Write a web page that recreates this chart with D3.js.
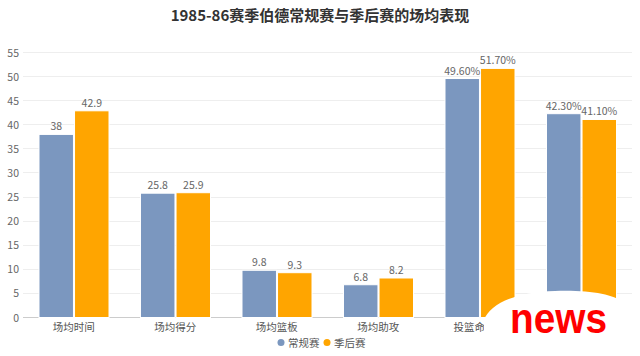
<!DOCTYPE html>
<html><head><meta charset="utf-8">
<script src="https://cdn.jsdelivr.net/npm/d3@7"></script>
<style>html,body{margin:0;padding:0;background:#fff}svg{display:block}</style>
</head><body>
<script>
const categories = ["场均时间","场均得分","场均篮板","场均助攻","投篮命中率","三分命中率"];
const seriesNames = ["常规赛","季后赛"];
const regular = [38, 25.8, 9.8, 6.8, 49.6, 42.3];
const playoffs = [42.9, 25.9, 9.3, 8.2, 51.7, 41.1];
const isPercent = [false,false,false,false,true,true];
const yTicks = [0,5,10,15,20,25,30,35,40,45,50,55];
const colors = ["#7b97bf","#ffa500"];
const font = "'Noto Sans CJK SC','Noto Sans',sans-serif";

const W=640,H=356;
const svg=d3.select("body").append("svg").attr("width",W).attr("height",H);
const x=d3.scaleBand().domain(categories).range([23,632]);
const y=d3.scaleLinear().domain([0,55]).range([317.5,52.5]);
const x1=d3.scaleBand().domain(seriesNames).range([16,x.bandwidth()-15.5]).paddingInner(0.03);

svg.append("text").attr("x",320).attr("y",21).attr("text-anchor","middle")
 .attr("font-family",font).attr("font-weight","bold").attr("font-size",15).attr("fill","#333")
 .text("1985-86赛季伯德常规赛与季后赛的场均表现");

const g=svg.append("g");
g.selectAll(".grid").data(yTicks).join("line")
 .attr("x1",23).attr("x2",632).attr("y1",d=>y(d)).attr("y2",d=>y(d))
 .attr("stroke",d=>d===0?"#ccc":"#eee").attr("stroke-width",1).attr("shape-rendering","crispEdges");
g.selectAll(".yt").data(yTicks).join("text")
 .attr("x",19).attr("y",d=>y(d)+4).attr("text-anchor","end")
 .attr("font-family",font).attr("font-size",10.5).attr("fill","#666").text(d=>d);

const data=categories.map((c,i)=>({c,i,vals:[regular[i],playoffs[i]]}));
const cg=g.selectAll(".cat").data(data).join("g").attr("transform",d=>`translate(${x(d.c)},0)`);
cg.selectAll("rect").data(d=>d.vals.map((v,j)=>({v,j,p:isPercent[d.i]}))).join("rect")
 .attr("x",d=>x1(seriesNames[d.j])).attr("width",x1.bandwidth())
 .attr("y",d=>y(d.v)).attr("height",d=>y(0)-y(d.v))
 .attr("fill",d=>colors[d.j]).attr("stroke","#fff").attr("stroke-width",1);
cg.selectAll(".vl").data(d=>d.vals.map((v,j)=>({v,j,p:isPercent[d.i]}))).join("text")
 .attr("x",d=>x1(seriesNames[d.j])+x1.bandwidth()/2).attr("y",d=>y(d.v)-4)
 .attr("text-anchor","middle").attr("font-family",font).attr("font-size",10.5).attr("fill","#666")
 .text(d=>d.p?d.v.toFixed(2)+"%":d.v);
g.selectAll(".xl").data(categories).join("text")
 .attr("x",d=>x(d)+x.bandwidth()/2).attr("y",331).attr("text-anchor","middle")
 .attr("font-family",font).attr("font-size",10.5).attr("fill","#555").text(d=>d);

// legend
const leg=svg.append("g");
const lx=[281,327];
seriesNames.forEach((s,i)=>{
  leg.append("circle").attr("cx",lx[i]).attr("cy",342.5).attr("r",3.5).attr("fill",colors[i]);
  leg.append("text").attr("x",lx[i]+7).attr("y",346.5).attr("font-family",font).attr("font-size",10.5).attr("fill","#555").text(s);
});

// watermark overlay
svg.append("path").attr("d","M484,356 L484,320 C490,304 515,292 555,291 C590,290 612,294 625,303 L640,316 L640,356 Z").attr("fill","#fff");
svg.append("text").attr("x",510).attr("y",333).attr("font-family","'Liberation Sans',Arial,sans-serif")
 .attr("font-weight","bold").attr("font-size",43).attr("fill","#ff0000")
 .attr("textLength",97).attr("lengthAdjust","spacingAndGlyphs").text("news");
</script>
</body></html>
